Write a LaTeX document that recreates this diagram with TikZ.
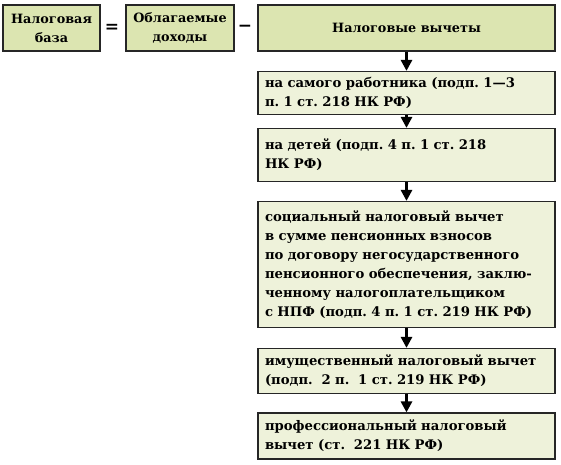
\documentclass[tikz,border=0pt]{standalone}
\usepackage{fontspec}
\setmainfont{DejaVu Serif}
\usetikzlibrary{positioning,arrows.meta}
\definecolor{headgreen}{HTML}{DCE5B1}
\definecolor{itemgreen}{HTML}{EEF2DA}
\frenchspacing
\begin{document}
\begin{tikzpicture}[x=1pt,y=-1pt,
	headbox/.style={draw=black!85,line width=1.2pt,fill=headgreen,inner sep=0pt,align=center,
		font=\fontsize{12.8}{19}\selectfont\bfseries},
	itembox/.style={draw=black!85,line width=1.2pt,fill=itemgreen,inner sep=0pt,inner xsep=7pt,
		minimum width=297pt,text width=283pt,align=left,font=\fontsize{13.2}{19}\selectfont\bfseries},
	sign/.style={font=\fontsize{17}{17}\selectfont\bfseries},
	flow/.style={line width=3pt,-{Triangle[width=11pt,length=11pt]}}]
	\useasboundingbox (0,0) rectangle (561,464);

	\node [headbox,minimum width=97pt,minimum height=46pt] (base) at (51.5,28) {Налоговая\\база};
	\node [sign] (eq) at (112,28) {=};
	\node [headbox,minimum width=108pt,minimum height=46pt] (income) at (180,28) {Облагаемые\\доходы};
	\node [sign] (minus) at (245,28) {−};
	\node [headbox,minimum width=297pt,minimum height=46pt] (deduct) at (406.5,28) {Налоговые вычеты};

	\node [itembox,minimum height=43pt] (worker) at (406.5,93) {на самого работника (подп. 1—3\\п. 1 ст. 218 НК РФ)};
	\node [itembox,minimum height=53pt] (kids) at (406.5,155) {на детей (подп. 4 п. 1 ст. 218\\НК РФ)};
	\node [itembox,minimum height=126pt] (social) at (406.5,264.5) {социальный налоговый вычет\\в сумме пенсионных взносов\\по договору негосударственного\\пенсионного обеспечения, заклю-\\ченному налогоплательщиком\\с НПФ (подп. 4 п. 1 ст. 219 НК РФ)};
	\node [itembox,minimum height=45pt] (property) at (406.5,371) {имущественный налоговый вычет\\(подп.~ 2 п.~ 1 ст. 219 НК РФ)};
	\node [itembox,minimum height=46pt] (prof) at (406.5,436) {профессиональный налоговый\\вычет (ст.~ 221 НК РФ)};

	\draw [flow] (deduct) -- (worker);
	\draw [flow] (worker) -- (kids);
	\draw [flow] (kids) -- (social);
	\draw [flow] (social) -- (property);
	\draw [flow] (property) -- (prof);
\end{tikzpicture}
\end{document}
